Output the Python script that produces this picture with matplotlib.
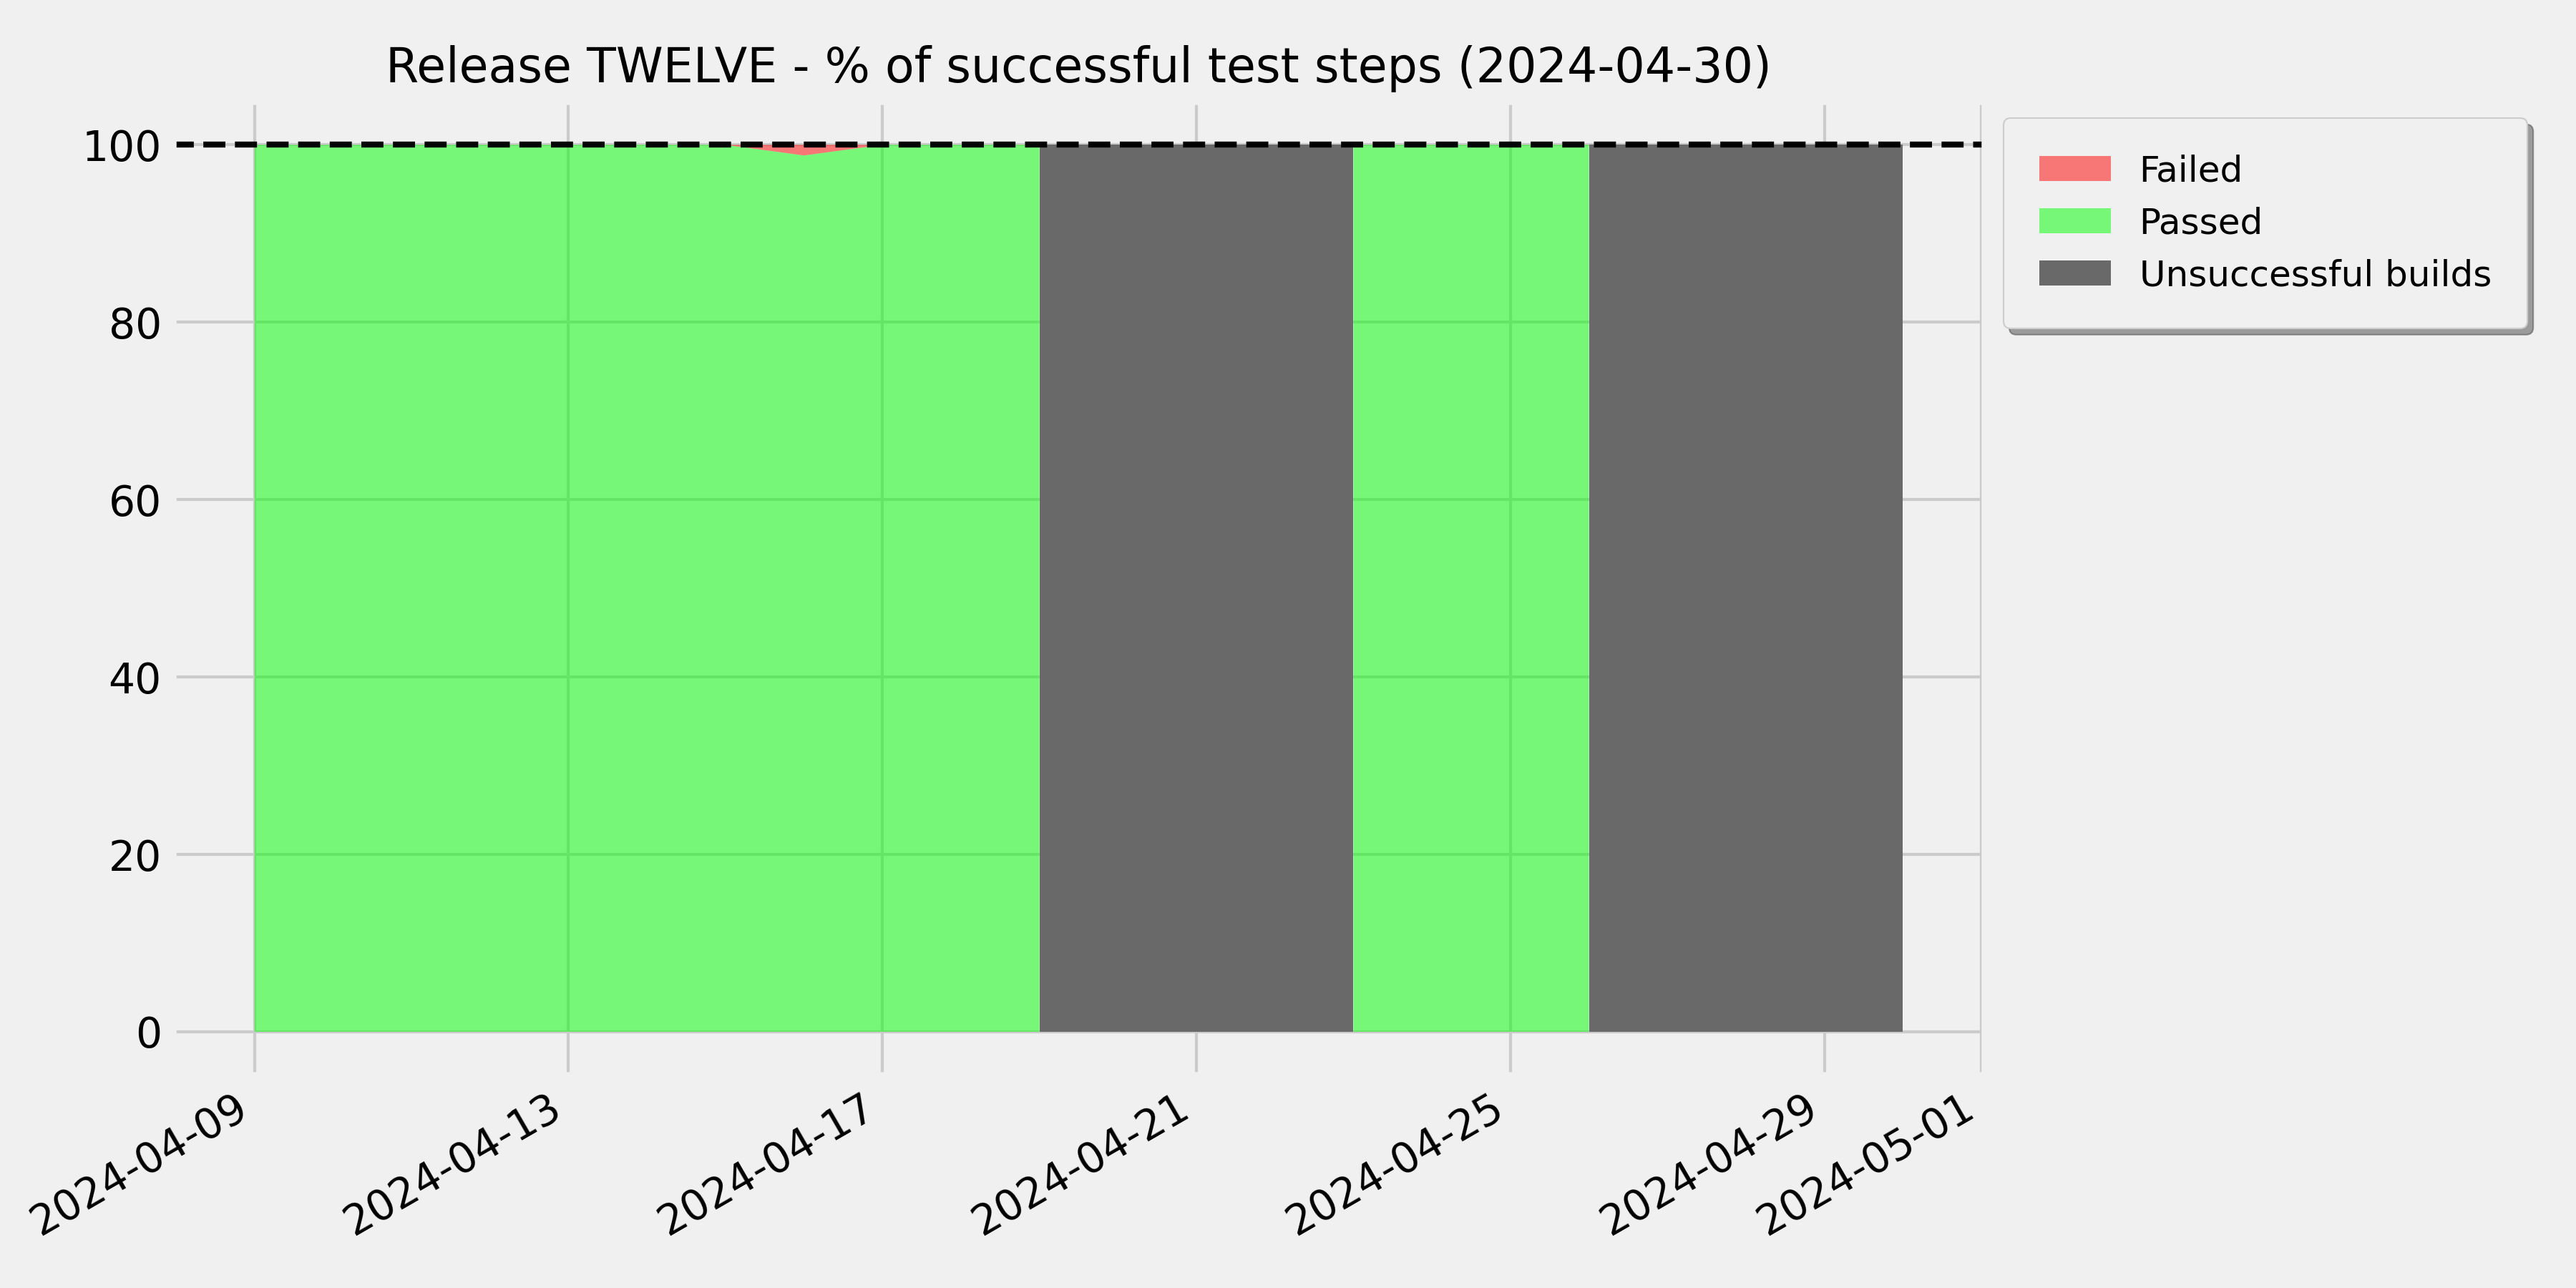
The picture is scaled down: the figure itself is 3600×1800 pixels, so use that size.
import matplotlib
matplotlib.use("Agg")
import matplotlib.pyplot as plt
import matplotlib.dates as mdates
import pandas as pd
import numpy as np

plt.style.use("fivethirtyeight")

# Build timestamps (transitions between build outcomes are duplicated dates)
dates = pd.to_datetime([
    "2024-04-09", "2024-04-10", "2024-04-11", "2024-04-12", "2024-04-13",
    "2024-04-14", "2024-04-15", "2024-04-16", "2024-04-17", "2024-04-18",
    "2024-04-19", "2024-04-19", "2024-04-20", "2024-04-21", "2024-04-22",
    "2024-04-23", "2024-04-23", "2024-04-24", "2024-04-25", "2024-04-26",
    "2024-04-26", "2024-04-27", "2024-04-28", "2024-04-29", "2024-04-30",
])
passed = [100, 100, 100, 100, 100,
          100, 100, 98.8, 100, 100,
          100, 0, 0, 0, 0,
          0, 100, 100, 100, 100,
          0, 0, 0, 0, 0]
failed = [0, 0, 0, 0, 0,
          0, 0, 1.2, 0, 0,
          0, 0, 0, 0, 0,
          0, 0, 0, 0, 0,
          0, 0, 0, 0, 0]
unsuccessful = [0, 0, 0, 0, 0,
                0, 0, 0, 0, 0,
                0, 100, 100, 100, 100,
                100, 0, 0, 0, 0,
                100, 100, 100, 100, 100]

title = "Release TWELVE - % of successful test steps (2024-04-30)"

fig = plt.figure(figsize=(12, 6), dpi=300)
ax = fig.add_axes([0.0668, 0.1645, 0.7707 - 0.0668, 0.922 - 0.1645])

polys = ax.stackplot(dates, passed, failed, unsuccessful,
                     labels=["Passed", "Failed", "Unsuccessful builds"],
                     colors=["lime", "red", "dimgray"])
polys[0].set_alpha(0.5)
polys[1].set_alpha(0.5)
polys[2].set_alpha(1.0)

ax.axhline(100, color="black", linestyle="--", linewidth=2)

ax.set_ylim(-5, 105)
ax.set_yticks([0, 20, 40, 60, 80, 100])
span = dates.max() - dates.min()
ax.set_xlim(dates.min() - span * 0.05, dates.max() + span * 0.05)
ax.xaxis.set_major_locator(mdates.DayLocator(bymonthday=range(1, 32, 4)))
ax.xaxis.set_major_formatter(mdates.DateFormatter("%Y-%m-%d"))
for lbl in ax.get_xticklabels():
    lbl.set_rotation(30)
    lbl.set_ha("right")
ax.tick_params(labelsize=14)

ax.set_title(title, fontsize=16)

handles, labels = ax.get_legend_handles_labels()
order = [1, 0, 2]
ax.legend([handles[i] for i in order], [labels[i] for i in order],
          loc="upper left", bbox_to_anchor=(1.0, 1.0), fontsize=12,
          shadow=True, fancybox=True, borderaxespad=0.5, borderpad=1.0)

fig.savefig("out.png", dpi=300)
